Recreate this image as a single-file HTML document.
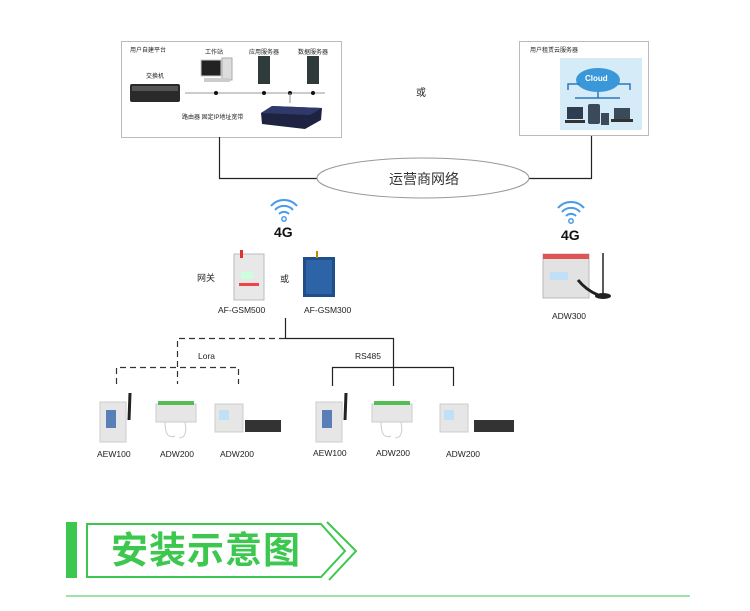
<!DOCTYPE html>
<html><head><meta charset="utf-8"><style>
body{margin:0;background:#fff;width:750px;height:611px;overflow:hidden;position:relative;font-family:"Liberation Sans","Noto Sans CJK SC",sans-serif;}
.t{position:absolute;white-space:nowrap;color:#222;}
</style></head><body>
<svg width="750" height="611" style="position:absolute;left:0;top:0">
<!-- boxes -->
<rect x="121.5" y="41.5" width="220" height="96" fill="#fff" stroke="#bbb"/>
<rect x="519.5" y="41.5" width="129" height="94" fill="#fff" stroke="#bbb"/>
<!-- left box content -->
<rect x="130" y="84" width="50" height="18" fill="#2a2a2a" rx="2"/>
<rect x="132" y="86" width="46" height="5" fill="#555"/>
<line x1="185" y1="93" x2="325" y2="93" stroke="#999"/>
<circle cx="216" cy="93" r="2" fill="#111"/><circle cx="264" cy="93" r="2" fill="#111"/><circle cx="290" cy="93" r="2" fill="#111"/><circle cx="313" cy="93" r="2" fill="#111"/>
<line x1="290" y1="93" x2="290" y2="103" stroke="#999"/>
<rect x="201" y="60" width="20" height="16" fill="#222" stroke="#ccc"/>
<rect x="222" y="58" width="10" height="22" fill="#ddd" stroke="#aaa"/>
<rect x="204" y="78" width="26" height="4" fill="#ccc"/>
<rect x="258" y="56" width="12" height="28" fill="#2f3b3b"/>
<rect x="307" y="56" width="12" height="28" fill="#2f3b3b"/>
<polygon points="261,113 272,106 322,108 321,120 305,129 262,124" fill="#1d2340"/>
<polygon points="261,113 272,106 322,108 310,115" fill="#2f3a6a"/>
<!-- cloud panel -->
<rect x="560" y="58" width="82" height="72" fill="#d6ebf8"/>
<ellipse cx="598" cy="80" rx="22" ry="12" fill="#3a98d8"/>
<path d="M568 90 v-6 h12 M630 90 v-6 h-12 M598 92 v6 M575 98 h45" stroke="#2a78c0" fill="none" stroke-width="1.5"/>
<rect x="567" y="107" width="16" height="12" fill="#2c3e50"/><rect x="588" y="104" width="12" height="20" fill="#3a4a5a" rx="2"/>
<rect x="601" y="113" width="8" height="12" fill="#3a4a5a"/><rect x="614" y="108" width="16" height="11" fill="#3a4a5a"/>
<rect x="611" y="119" width="22" height="3" fill="#333"/><rect x="565" y="120" width="20" height="3" fill="#333"/>
<!-- network connections -->
<polyline points="219.5,137 219.5,178.5 318,178.5" fill="none" stroke="#222" stroke-width="1.2"/>
<polyline points="528,178.5 591.5,178.5 591.5,136" fill="none" stroke="#222" stroke-width="1.2"/>
<ellipse cx="423" cy="178" rx="106" ry="20" fill="#fff" stroke="#999"/>
<!-- wifi -->
<g fill="none" stroke="#4a9be8" stroke-width="2">
<path d="M271 206 a17 17 0 0 1 26 0"/><path d="M275 210 a12 12 0 0 1 18 0"/><path d="M279 214 a7 7 0 0 1 10 0"/>
<path d="M558 208 a17 17 0 0 1 26 0"/><path d="M562 212 a12 12 0 0 1 18 0"/><path d="M566 216 a7 7 0 0 1 10 0"/>
</g>
<circle cx="284" cy="219" r="2.2" fill="none" stroke="#4a9be8" stroke-width="1.5"/>
<circle cx="571" cy="221" r="2.2" fill="none" stroke="#4a9be8" stroke-width="1.5"/>
<!-- gateways -->
<rect x="234" y="254" width="30" height="46" fill="#e8e8e8" stroke="#bbb"/>
<rect x="240" y="250" width="3" height="8" fill="#d33"/>
<rect x="241" y="272" width="12" height="7" fill="#cfd"/>
<rect x="239" y="283" width="20" height="3" fill="#e44"/>
<rect x="303" y="257" width="32" height="40" fill="#1f4f8a"/>
<rect x="306" y="260" width="26" height="34" fill="#2d64a8"/>
<rect x="316" y="251" width="2" height="7" fill="#b80"/>
<!-- ADW300 -->
<rect x="543" y="254" width="46" height="44" fill="#e2e2e2" stroke="#bbb"/>
<rect x="543" y="254" width="46" height="5" fill="#d55"/>
<rect x="550" y="272" width="18" height="8" fill="#bfe0f5"/>
<path d="M578 280 q8 10 20 15" stroke="#222" stroke-width="3" fill="none"/>
<line x1="603" y1="253" x2="603" y2="295" stroke="#222" stroke-width="1.5"/>
<ellipse cx="603" cy="296" rx="8" ry="3" fill="#222"/>
<!-- bus lines -->
<g stroke="#222" stroke-width="1.2" fill="none">
<polyline points="285.5,318 285.5,338.5 393.5,338.5 393.5,386"/>
<polyline points="332.5,386 332.5,367.5 453.5,367.5 453.5,386"/>
</g>
<g stroke="#333" stroke-width="1.2" fill="none" stroke-dasharray="6,4">
<polyline points="285,338.5 177.5,338.5 177.5,384"/>
<polyline points="116.5,384 116.5,367.5 238.5,367.5 238.5,384"/>
</g>
<!-- devices -->
<g>
<rect x="100" y="402" width="26" height="40" fill="#e6e6e6" stroke="#ccc"/><rect x="106" y="410" width="10" height="18" fill="#5a7fb8"/><line x1="130" y1="393" x2="129" y2="420" stroke="#222" stroke-width="3"/>
<rect x="156" y="404" width="40" height="18" fill="#e6e6e6" stroke="#ccc"/><rect x="158" y="401" width="36" height="4" fill="#5b5"/><path d="M165 422 q0 18 10 14 M185 422 q3 16 -6 16" stroke="#ccc" fill="none"/>
<rect x="215" y="404" width="28" height="28" fill="#e6e6e6" stroke="#ccc"/><rect x="219" y="410" width="10" height="10" fill="#bfe0f5"/><rect x="245" y="420" width="36" height="12" fill="#333"/>
<rect x="316" y="402" width="26" height="40" fill="#e6e6e6" stroke="#ccc"/><rect x="322" y="410" width="10" height="18" fill="#5a7fb8"/><line x1="346" y1="393" x2="345" y2="420" stroke="#222" stroke-width="3"/>
<rect x="372" y="404" width="40" height="18" fill="#e6e6e6" stroke="#ccc"/><rect x="374" y="401" width="36" height="4" fill="#5b5"/><path d="M381 422 q0 18 10 14 M401 422 q3 16 -6 16" stroke="#ccc" fill="none"/>
<rect x="440" y="404" width="28" height="28" fill="#e6e6e6" stroke="#ccc"/><rect x="444" y="410" width="10" height="10" fill="#bfe0f5"/><rect x="474" y="420" width="40" height="12" fill="#333"/>
</g>
<!-- banner -->
<rect x="66" y="522" width="11" height="56" fill="#3cc84f"/>
<polygon points="87,524 321,524 345,551 321,577 87,577" fill="none" stroke="#3cc84f" stroke-width="2"/>
<polyline points="327,522 356,551 329,580" fill="none" stroke="#3cc84f" stroke-width="2"/>
<line x1="66" y1="596" x2="690" y2="596" stroke="#7ddc8a" stroke-width="1.5"/>
</svg>
<div class="t" style="left:130px;top:45px;font-size:6px">用户自建平台</div>
<div class="t" style="left:146px;top:71px;font-size:6px">交换机</div>
<div class="t" style="left:205px;top:47px;font-size:6px">工作站</div>
<div class="t" style="left:249px;top:47px;font-size:6px">应用服务器</div>
<div class="t" style="left:298px;top:47px;font-size:6px">数据服务器</div>
<div class="t" style="left:182px;top:112px;font-size:6px">路由器 固定IP地址宽带</div>
<div class="t" style="left:530px;top:45px;font-size:6px">用户租赁云服务器</div>
<div class="t" style="left:585px;top:74px;font-size:8px;color:#fff;font-weight:bold">Cloud</div>
<div class="t" style="left:416px;top:84px;font-size:10px">或</div>
<div class="t" style="left:389px;top:169px;font-size:14px;color:#333">运营商网络</div>
<div class="t" style="left:274px;top:224px;font-size:14px;font-weight:bold;color:#111">4G</div>
<div class="t" style="left:561px;top:227px;font-size:14px;font-weight:bold;color:#111">4G</div>
<div class="t" style="left:197px;top:271px;font-size:9px">网关</div>
<div class="t" style="left:280px;top:272px;font-size:9px">或</div>
<div class="t" style="left:218px;top:305px;font-size:8.5px">AF-GSM500</div>
<div class="t" style="left:304px;top:305px;font-size:8.5px">AF-GSM300</div>
<div class="t" style="left:552px;top:311px;font-size:8.5px">ADW300</div>
<div class="t" style="left:198px;top:351px;font-size:8.5px">Lora</div>
<div class="t" style="left:355px;top:351px;font-size:8.5px">RS485</div>
<div class="t" style="left:97px;top:449px;font-size:8.5px">AEW100</div>
<div class="t" style="left:160px;top:449px;font-size:8.5px">ADW200</div>
<div class="t" style="left:220px;top:449px;font-size:8.5px">ADW200</div>
<div class="t" style="left:313px;top:448px;font-size:8.5px">AEW100</div>
<div class="t" style="left:376px;top:448px;font-size:8.5px">ADW200</div>
<div class="t" style="left:446px;top:449px;font-size:8.5px">ADW200</div>
<div class="t" style="left:111px;top:530px;font-size:37px;font-weight:bold;color:#3cc84f;letter-spacing:1px;line-height:42px">安装示意图</div>
</body></html>
